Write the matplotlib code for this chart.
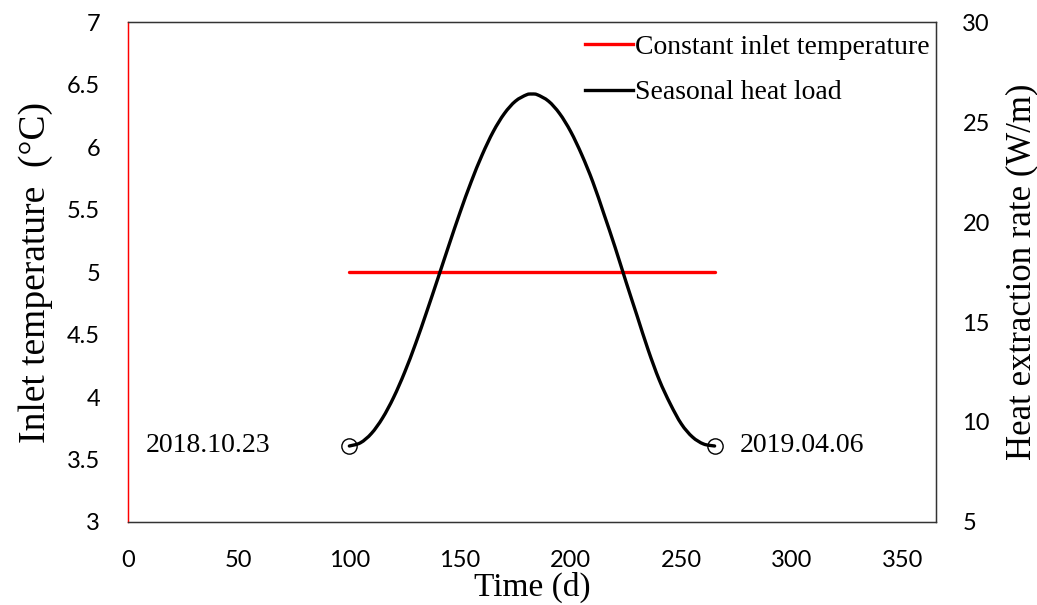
import matplotlib
matplotlib.use('Agg')
import matplotlib.pyplot as plt
from matplotlib.path import Path
from matplotlib.patches import PathPatch
from matplotlib.lines import Line2D

# data
days = [100, 105, 110, 115, 120, 125, 130, 135, 140, 145, 150, 155, 160, 165, 170,
        175, 180, 182.5, 185, 190, 195, 200, 205, 210, 215, 220, 225, 230, 235, 240,
        245, 250, 255, 260, 265]
heat_load = [8.80, 8.96, 9.43, 10.20, 11.23, 12.49, 13.94, 15.53, 17.18, 18.85, 20.48,
             22.00, 23.36, 24.52, 25.42, 26.04, 26.36, 26.40, 26.36, 26.04, 25.42, 24.52,
             23.36, 22.00, 20.40, 18.75, 17.00, 15.30, 13.60, 12.10, 10.90, 9.90, 9.25,
             8.90, 8.80]
const_days = [100, 265]
const_temp = [5, 5]
date_labels = ['2018.10.23', '2019.04.06']

serif = 'Liberation Serif'
sans = 'Lato'


def smooth_path(xs, ys):
    """Catmull-Rom through the points, as cubic bezier segments (like Excel smoothing)."""
    verts = [(xs[0], ys[0])]
    codes = [Path.MOVETO]
    n = len(xs)
    for i in range(n - 1):
        x0, y0 = (xs[i - 1], ys[i - 1]) if i > 0 else (xs[i], ys[i])
        x1, y1 = xs[i], ys[i]
        x2, y2 = xs[i + 1], ys[i + 1]
        x3, y3 = (xs[i + 2], ys[i + 2]) if i + 2 < n else (x2, y2)
        c1 = (x1 + (x2 - x0) / 6, y1 + (y2 - y0) / 6)
        c2 = (x2 - (x3 - x1) / 6, y2 - (y3 - y1) / 6)
        verts += [c1, c2, (x2, y2)]
        codes += [Path.CURVE4] * 3
    return Path(verts, codes)


fig = plt.figure(figsize=(10.37, 6.05), dpi=100)
ax = fig.add_axes([0.1234, 0.1372, 0.7792, 0.8264])
ax2 = ax.twinx()

ax.plot(const_days, const_temp, color='#ff0000', lw=2.4, solid_capstyle='round')
ax2.add_patch(PathPatch(smooth_path(days, heat_load), fill=False, edgecolor='black',
                        lw=2.4, capstyle='round', joinstyle='round'))
ax2.plot([days[0], days[-1]], [heat_load[0], heat_load[-1]], ls='none', marker='o',
         ms=11, mfc='none', mec='black', mew=1.0)

ax.set_xlim(0, 365)
ax.set_ylim(3, 7)
ax2.set_ylim(5, 30)
ax.set_xticks(range(0, 351, 50))
ax.set_yticks([3, 3.5, 4, 4.5, 5, 5.5, 6, 6.5, 7])
ax.set_yticklabels(['3', '3.5', '4', '4.5', '5', '5.5', '6', '6.5', '7'])
ax2.set_yticks([5, 10, 15, 20, 25, 30])

for a in (ax, ax2):
    a.tick_params(length=0, labelsize=17)
    for lab in a.get_xticklabels() + a.get_yticklabels():
        lab.set_fontfamily(sans)
ax.tick_params(axis='y', pad=20)
ax.tick_params(axis='x', pad=20)
ax2.tick_params(axis='y', pad=19)

for s in ax2.spines.values():
    s.set_color('#333333')
    s.set_linewidth(1.0)
ax2.spines['left'].set_color('#ff0000')
ax.spines['left'].set_color('#ff0000')

ax.set_xlabel('Time (d)', fontfamily=serif, fontsize=24, labelpad=1)
ax.set_ylabel('Inlet temperature  (\u00b0C)', fontfamily=serif, fontsize=27, labelpad=10)
ax2.set_ylabel('Heat extraction rate (W/m)', fontfamily=serif, fontsize=25, labelpad=11)

ax2.annotate(date_labels[0], (days[0], heat_load[0]), xytext=(-57, 0),
             textcoords='offset points', fontfamily=serif, fontsize=20,
             ha='right', va='center')
ax2.annotate(date_labels[1], (days[-1], heat_load[-1]), xytext=(18, 0),
             textcoords='offset points', fontfamily=serif, fontsize=20,
             ha='left', va='center')

handles = [Line2D([], [], color='#ff0000', lw=2.4),
           Line2D([], [], color='black', lw=2.4)]
ax2.legend(handles, ['Constant inlet temperature', 'Seasonal heat load'],
           loc='upper right', bbox_to_anchor=(1.008, 1.0), frameon=False,
           prop={'family': serif, 'size': 20}, handlelength=1.7,
           handletextpad=0.1, borderaxespad=0.15, borderpad=0.3, labelspacing=0.72)

fig.savefig('out.png', dpi=100)
